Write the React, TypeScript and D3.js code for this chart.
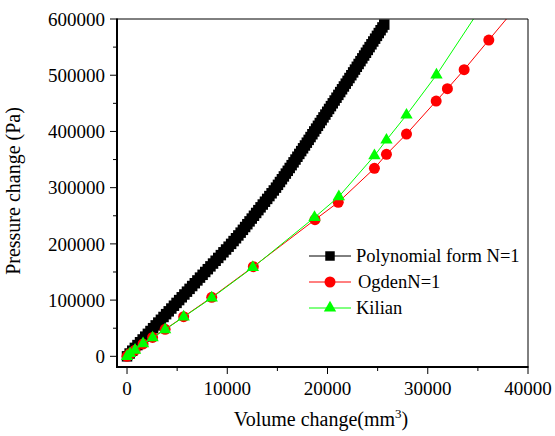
import React from "react";
import * as d3 from "d3";

// ---- data ----
const polyPressure = [
  0, 5000, 10000, 15000, 20000, 25000, 30000, 35000, 40000, 45000, 50000, 55000, 60000, 65000, 70000, 75000, 80000, 85000, 90000, 95000,
  100000, 105000, 110000, 115000, 120000, 125000, 130000, 135000, 140000, 145000, 150000, 155000, 160000, 165000, 170000, 175000, 180000, 185000, 190000, 195000,
  200000, 205000, 210000, 215000, 220000, 225000, 230000, 235000, 240000, 245000, 250000, 255000, 260000, 265000, 270000, 275000, 280000, 285000, 290000, 295000,
  300000, 305000, 310000, 315000, 320000, 325000, 330000, 335000, 340000, 345000, 350000, 355000, 360000, 365000, 370000, 375000, 380000, 385000, 390000, 395000,
  400000, 405000, 410000, 415000, 420000, 425000, 430000, 435000, 440000, 445000, 450000, 455000, 460000, 465000, 470000, 475000, 480000, 485000, 490000, 495000,
  500000, 505000, 510000, 515000, 520000, 525000, 530000, 535000, 540000, 545000, 550000, 555000, 560000, 565000, 570000, 575000, 580000, 585000, 590000,
];
const polyVolume = [
  0, 260, 520, 780, 1040, 1300, 1560, 1820, 2080, 2340, 2600, 2860, 3120, 3380, 3640, 3900, 4160, 4420, 4680, 4940,
  5200, 5460, 5720, 5980, 6240, 6500, 6760, 7020, 7280, 7540, 7800, 8060, 8320, 8580, 8840, 9100, 9360, 9620, 9880, 10135,
  10385, 10630, 10870, 11105, 11335, 11560, 11782, 12002, 12222, 12442, 12662, 12882, 13102, 13322, 13542, 13762, 13982, 14202, 14422, 14642,
  14860, 15058, 15255, 15451, 15647, 15842, 16036, 16229, 16422, 16614, 16805, 16995, 17185, 17374, 17562, 17749, 17936, 18122, 18307, 18491,
  18675, 18860, 19045, 19230, 19415, 19600, 19785, 19970, 20155, 20340, 20525, 20710, 20895, 21080, 21265, 21450, 21635, 21820, 22005, 22190,
  22375, 22558, 22740, 22923, 23105, 23288, 23470, 23653, 23835, 24018, 24200, 24383, 24565, 24748, 24930, 25113, 25295, 25478, 25660,
];

const ogdenVolume = [0, 300, 800, 1600, 2550, 3800, 5650, 8450, 12600, 18750, 21070, 24680, 25880, 27880, 30840, 31960, 33630, 36090, 38500];
const ogdenPressure = [0, 5000, 11000, 22000, 33500, 48000, 70500, 105000, 159500, 243000, 274000, 334400, 359300, 395400, 454100, 476000, 509800, 562600, 614000];

const kilianVolume = [0, 300, 800, 1600, 2550, 3800, 5650, 8450, 12550, 18700, 21130, 24680, 25880, 27880, 30870, 35300];
const kilianPressure = [0, 5000, 11000, 22500, 33000, 47500, 70000, 104000, 158000, 247000, 284000, 356800, 384700, 429200, 500400, 620000];

const xMajorTicks = [0, 10000, 20000, 30000, 40000];
const xMinorTicks = [5000, 15000, 25000, 35000];
const yMajorTicks = [0, 100000, 200000, 300000, 400000, 500000, 600000];
const yMinorTicks = [50000, 150000, 250000, 350000, 450000, 550000];

const legendLabels = ["Polynomial form N=1", "OgdenN=1", "Kilian"];
const xTitle = "Volume change(mm";
const yTitle = "Pressure change (Pa)";

const FONT = "Liberation Serif, Times New Roman, serif";

export default function App() {
  const left = 117, right = 528, top = 19, bottom = 367;
  const x = d3.scaleLinear().domain([-1000, 40000]).range([left, right]);
  const y = d3.scaleLinear().domain([-19000, 600000]).range([bottom, top]);

  const poly = polyVolume.map((v, i) => [v, polyPressure[i]] as [number, number]);
  const ogden = ogdenVolume.map((v, i) => [v, ogdenPressure[i]] as [number, number]);
  const kilian = kilianVolume.map((v, i) => [v, kilianPressure[i]] as [number, number]);

  const line = d3.line<[number, number]>().x((d) => x(d[0])).y((d) => y(d[1]));
  const sq = d3.symbol().type(d3.symbolSquare).size(110)()!;
  const sqLegend = d3.symbol().type(d3.symbolSquare).size(90)()!;
  const circ = d3.symbol().type(d3.symbolCircle).size(95)()!;
  const tri = d3.symbol().type(d3.symbolTriangle).size(66)()!;

  const legendRows = [256, 282, 308];
  const legendColors = ["#000000", "#ff0000", "#00ff00"];
  const legendSyms = [sqLegend, circ, tri];

  return (
    <svg width={555} height={436} style={{ position: "absolute", left: 0, top: 0, background: "#fff" }}>
      <rect x={0} y={0} width={555} height={436} fill="#fff" />
      <defs>
        <clipPath id="plotclip">
          <rect x={left} y={top} width={right - left} height={bottom - top} />
        </clipPath>
      </defs>

      <g clipPath="url(#plotclip)">
        {poly.map((d, i) => (
          <path key={"p" + i} d={sq} transform={`translate(${x(d[0])},${y(d[1])})`} fill="#000" />
        ))}
        <path d={line(ogden)!} fill="none" stroke="#ff0000" strokeWidth={1} />
        {ogden.map((d, i) => (
          <path key={"o" + i} d={circ} transform={`translate(${x(d[0])},${y(d[1])})`} fill="#ff0000" />
        ))}
        <path d={line(kilian)!} fill="none" stroke="#00ff00" strokeWidth={1} />
        {kilian.map((d, i) => (
          <path key={"k" + i} d={tri} transform={`translate(${x(d[0])},${y(d[1])})`} fill="#00ff00" />
        ))}
      </g>

      {/* frame */}
      <line x1={left} x2={right} y1={top} y2={top} stroke="#000" strokeWidth={1} />
      <line x1={right} x2={right} y1={top} y2={bottom} stroke="#000" strokeWidth={1} />
      <line x1={left} x2={left} y1={top - 0.5} y2={bottom + 1} stroke="#000" strokeWidth={2} />
      <line x1={left - 1} x2={right + 0.5} y1={bottom} y2={bottom} stroke="#000" strokeWidth={2} />

      {/* y ticks */}
      {yMajorTicks.map((t) => (
        <g key={"ym" + t}>
          <line x1={left - 7} x2={left} y1={y(t)} y2={y(t)} stroke="#000" strokeWidth={1} />
          <text x={105} y={y(t)} dy="0.35em" textAnchor="end" fontSize={19} fontFamily={FONT} fill="#000">{t}</text>
        </g>
      ))}
      {yMinorTicks.map((t) => (
        <line key={"yn" + t} x1={left - 4} x2={left} y1={y(t)} y2={y(t)} stroke="#000" strokeWidth={1} />
      ))}

      {/* x ticks */}
      {xMajorTicks.map((t) => (
        <g key={"xm" + t}>
          <line x1={x(t)} x2={x(t)} y1={bottom} y2={bottom + 7} stroke="#000" strokeWidth={1} />
          <text x={x(t)} y={395} textAnchor="middle" fontSize={19} fontFamily={FONT} fill="#000">{t}</text>
        </g>
      ))}
      {xMinorTicks.map((t) => (
        <line key={"xn" + t} x1={x(t)} x2={x(t)} y1={bottom} y2={bottom + 4} stroke="#000" strokeWidth={1} />
      ))}

      {/* titles */}
      <text x={321} y={426} textAnchor="middle" fontSize={20} fontFamily={FONT} fill="#000">
        {xTitle}
        <tspan dy={-8} fontSize={13}>3</tspan>
        <tspan dy={8}>)</tspan>
      </text>
      <text transform={`translate(20,191) rotate(-90)`} textAnchor="middle" fontSize={20} fontFamily={FONT} fill="#000">{yTitle}</text>

      {/* legend */}
      {legendRows.map((ry, i) => (
        <g key={"lg" + i}>
          <line x1={309} x2={351} y1={ry} y2={ry} stroke={legendColors[i]} strokeWidth={1} />
          <path d={legendSyms[i]} transform={`translate(330,${ry})`} fill={legendColors[i]} />
          <text x={i === 1 ? 358 : 356} y={ry} dy="0.33em" fontSize={18.5} fontFamily={FONT} fill="#000">{legendLabels[i]}</text>
        </g>
      ))}
    </svg>
  );
}
